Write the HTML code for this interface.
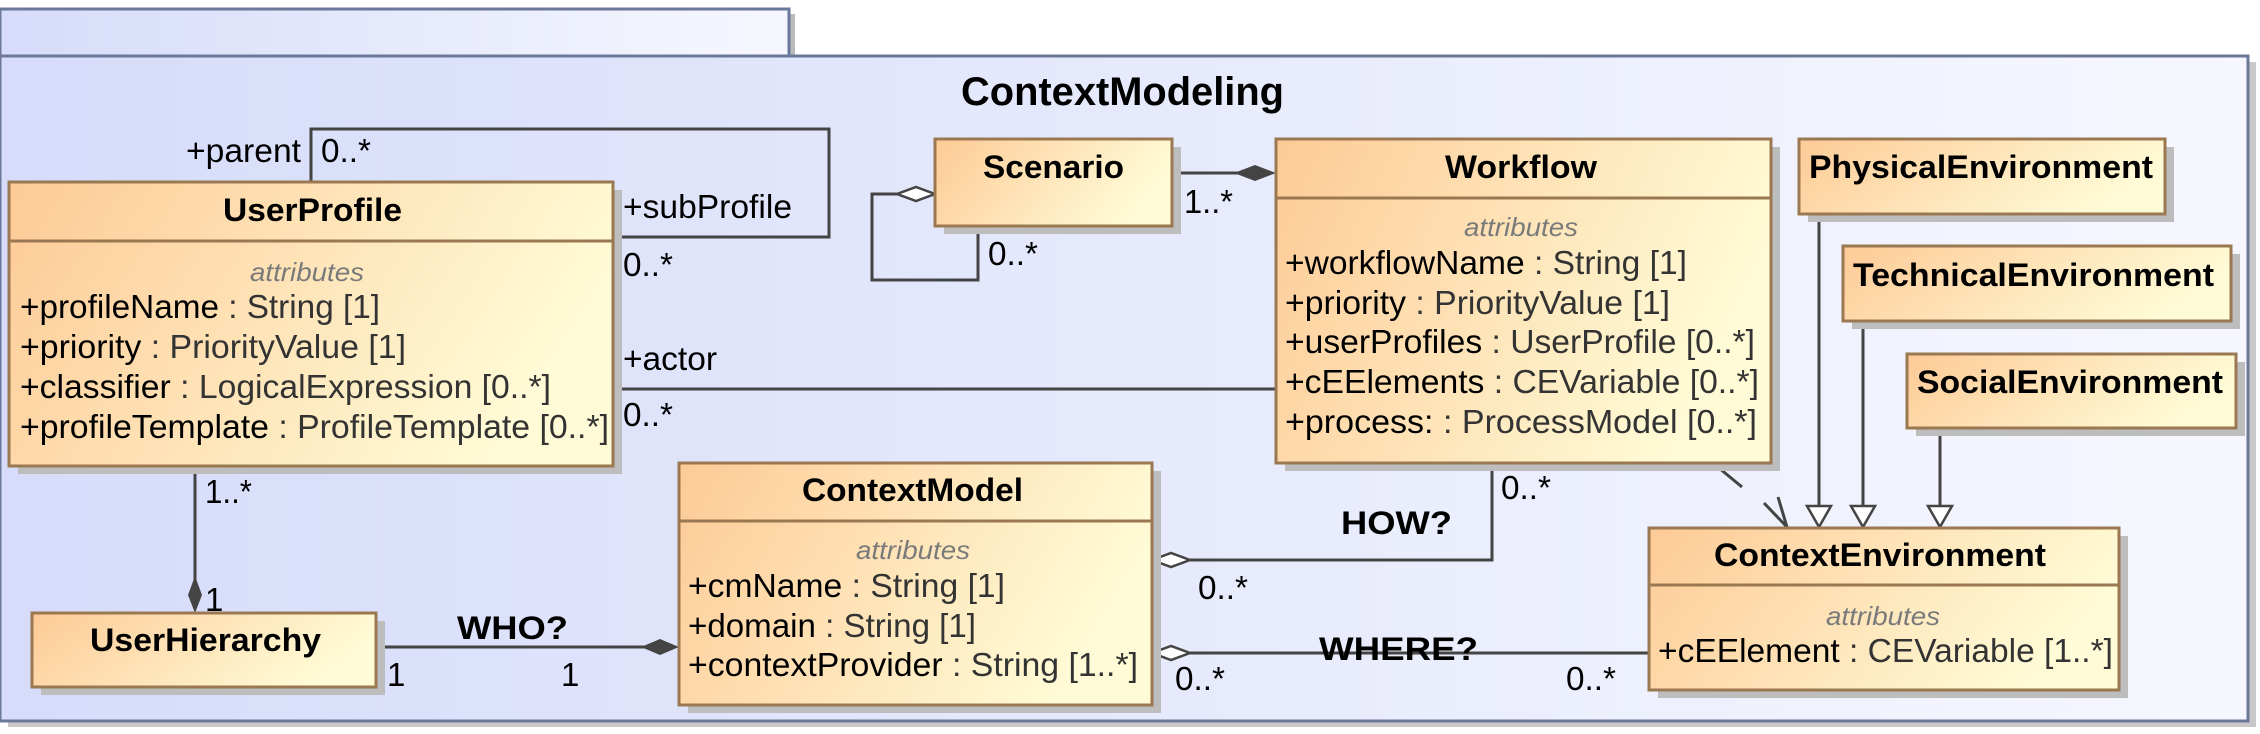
<!DOCTYPE html>
<html><head><meta charset="utf-8"><style>
html,body{margin:0;padding:0;background:#fff;}
svg{display:block;}
text{font-family:"Liberation Sans",sans-serif;}
</style></head><body>
<svg width="2260" height="734" viewBox="0 0 2260 734" xmlns="http://www.w3.org/2000/svg">
<defs>
<linearGradient id="pk" x1="0" y1="0" x2="1" y2="0"><stop offset="0" stop-color="#d6dcfa"/><stop offset="1" stop-color="#f6f7fe"/></linearGradient>
<linearGradient id="cl" x1="0" y1="0" x2="1" y2="0.3"><stop offset="0" stop-color="#fdca96"/><stop offset="1" stop-color="#fffbd6"/></linearGradient>
</defs>
<rect x="6" y="14" width="789" height="47" fill="#bbb"/>
<rect x="0" y="9" width="789" height="47" fill="url(#pk)" stroke="#6b7899" stroke-width="3"/>
<rect x="8" y="62" width="2248" height="665" fill="#c8c8c8"/>
<rect x="0" y="56" width="2248" height="665" fill="url(#pk)" stroke="#6b7899" stroke-width="3"/>
<text x="961" y="105" font-size="40" font-weight="bold" textLength="323" lengthAdjust="spacingAndGlyphs">ContextModeling</text>

<g stroke="#444" stroke-width="3" fill="none">
<polyline points="311,182 311,129 829,129 829,237 613,237"/>
<polyline points="897,194 872,194 872,280 978,280 978,226"/>
<line x1="1172" y1="173" x2="1240" y2="173"/>
<line x1="613" y1="389" x2="1276" y2="389"/>
<line x1="195" y1="466" x2="195" y2="580"/>
<line x1="376" y1="647" x2="645" y2="647"/>
<polyline points="1492,463 1492,560 1190,560"/>
<line x1="1190" y1="653" x2="1649" y2="653"/>
<line x1="1819" y1="214" x2="1819" y2="506"/>
<line x1="1863" y1="321" x2="1863" y2="506"/>
<line x1="1940" y1="428" x2="1940" y2="506"/>
<line x1="1719" y1="468" x2="1742" y2="487"/>
<polyline points="1764,503 1787,527 1778,497"/>
</g>
<g stroke="#444" stroke-width="2.5" fill="#fff">
<polygon points="1807,506 1831,506 1819,527"/>
<polygon points="1851,506 1875,506 1863,527"/>
<polygon points="1928,506 1952,506 1940,527"/>
<polygon points="935,194 916,187 897,194 916,201"/>
<polygon points="1152,560 1171,553 1190,560 1171,567"/>
<polygon points="1152,653 1171,646 1190,653 1171,660"/>
</g>
<g fill="#444">
<polygon points="1276,173 1255,165 1234,173 1255,181"/>
<polygon points="195,613 188,595 195,576 202,595"/>
<polygon points="679,647 660,639 641,647 660,655"/>
</g>

<g fill="#bdbdbd">
<rect x="18" y="190" width="604" height="284"/>
<rect x="944" y="147" width="237" height="87"/>
<rect x="1285" y="147" width="495" height="324"/>
<rect x="1808" y="147" width="366" height="75"/>
<rect x="1852" y="254" width="388" height="75"/>
<rect x="1916" y="362" width="329" height="74"/>
<rect x="1658" y="536" width="470" height="162"/>
<rect x="688" y="471" width="473" height="242"/>
<rect x="41" y="621" width="344" height="74"/>
</g>
<g fill="url(#cl)" stroke="#9a7852" stroke-width="3">
<rect x="9" y="182" width="604" height="284"/>
<rect x="935" y="139" width="237" height="87"/>
<rect x="1276" y="139" width="495" height="324"/>
<rect x="1799" y="139" width="366" height="75"/>
<rect x="1843" y="246" width="388" height="75"/>
<rect x="1907" y="354" width="329" height="74"/>
<rect x="1649" y="528" width="470" height="162"/>
<rect x="679" y="463" width="473" height="242"/>
<rect x="32" y="613" width="344" height="74"/>
</g>
<g stroke="#9a7852" stroke-width="3">
<line x1="9" y1="241" x2="613" y2="241"/>
<line x1="1276" y1="198" x2="1771" y2="198"/>
<line x1="1649" y1="585" x2="2119" y2="585"/>
<line x1="679" y1="521" x2="1152" y2="521"/>
</g>

<g font-weight="bold" font-size="32" fill="#000">
<text x="223" y="221" textLength="179" lengthAdjust="spacingAndGlyphs">UserProfile</text>
<text x="983" y="178" textLength="141" lengthAdjust="spacingAndGlyphs">Scenario</text>
<text x="1445" y="178" textLength="152" lengthAdjust="spacingAndGlyphs">Workflow</text>
<text x="1809" y="178" textLength="344" lengthAdjust="spacingAndGlyphs">PhysicalEnvironment</text>
<text x="1853" y="286" textLength="361" lengthAdjust="spacingAndGlyphs">TechnicalEnvironment</text>
<text x="1917" y="393" textLength="306" lengthAdjust="spacingAndGlyphs">SocialEnvironment</text>
<text x="1714" y="566" textLength="332" lengthAdjust="spacingAndGlyphs">ContextEnvironment</text>
<text x="802" y="501" textLength="221" lengthAdjust="spacingAndGlyphs">ContextModel</text>
<text x="90" y="651" textLength="231" lengthAdjust="spacingAndGlyphs">UserHierarchy</text>
<text x="457" y="639" textLength="111" lengthAdjust="spacingAndGlyphs">WHO?</text>
<text x="1341" y="534" textLength="111" lengthAdjust="spacingAndGlyphs">HOW?</text>
<text x="1319" y="660" textLength="159" lengthAdjust="spacingAndGlyphs">WHERE?</text>
</g>
<g font-style="italic" font-size="26" fill="#7a7a7a">
<text x="250" y="281" textLength="114" lengthAdjust="spacingAndGlyphs">attributes</text>
<text x="1464" y="236" textLength="114" lengthAdjust="spacingAndGlyphs">attributes</text>
<text x="1826" y="625" textLength="114" lengthAdjust="spacingAndGlyphs">attributes</text>
<text x="856" y="559" textLength="114" lengthAdjust="spacingAndGlyphs">attributes</text>
</g>
<g font-size="33" fill="#000">
<text x="20" y="318" textLength="360" lengthAdjust="spacingAndGlyphs">+profileName<tspan fill="#333"> : String [1]</tspan></text>
<text x="20" y="358" textLength="386" lengthAdjust="spacingAndGlyphs">+priority<tspan fill="#333"> : PriorityValue [1]</tspan></text>
<text x="20" y="398" textLength="531" lengthAdjust="spacingAndGlyphs">+classifier<tspan fill="#333"> : LogicalExpression [0..*]</tspan></text>
<text x="20" y="438" textLength="589" lengthAdjust="spacingAndGlyphs">+profileTemplate<tspan fill="#333"> : ProfileTemplate [0..*]</tspan></text>

<text x="1285" y="274" textLength="402" lengthAdjust="spacingAndGlyphs">+workflowName<tspan fill="#333"> : String [1]</tspan></text>
<text x="1285" y="314" textLength="385" lengthAdjust="spacingAndGlyphs">+priority<tspan fill="#333"> : PriorityValue [1]</tspan></text>
<text x="1285" y="353" textLength="470" lengthAdjust="spacingAndGlyphs">+userProfiles<tspan fill="#333"> : UserProfile [0..*]</tspan></text>
<text x="1285" y="393" textLength="474" lengthAdjust="spacingAndGlyphs">+cEElements<tspan fill="#333"> : CEVariable [0..*]</tspan></text>
<text x="1285" y="433" textLength="472" lengthAdjust="spacingAndGlyphs">+process:<tspan fill="#333"> : ProcessModel [0..*]</tspan></text>

<text x="1658" y="662" textLength="455" lengthAdjust="spacingAndGlyphs">+cEElement<tspan fill="#333"> : CEVariable [1..*]</tspan></text>

<text x="688" y="597" textLength="317" lengthAdjust="spacingAndGlyphs">+cmName<tspan fill="#333"> : String [1]</tspan></text>
<text x="688" y="637" textLength="288" lengthAdjust="spacingAndGlyphs">+domain<tspan fill="#333"> : String [1]</tspan></text>
<text x="688" y="676" textLength="450" lengthAdjust="spacingAndGlyphs">+contextProvider<tspan fill="#333"> : String [1..*]</tspan></text>

<text x="186" y="162" textLength="115" lengthAdjust="spacingAndGlyphs">+parent</text>
<text x="321" y="162" textLength="50" lengthAdjust="spacingAndGlyphs">0..*</text>
<text x="623" y="218" textLength="169" lengthAdjust="spacingAndGlyphs">+subProfile</text>
<text x="623" y="276" textLength="50" lengthAdjust="spacingAndGlyphs">0..*</text>
<text x="988" y="265" textLength="50" lengthAdjust="spacingAndGlyphs">0..*</text>
<text x="1184" y="213" textLength="49" lengthAdjust="spacingAndGlyphs">1..*</text>
<text x="623" y="370" textLength="94" lengthAdjust="spacingAndGlyphs">+actor</text>
<text x="623" y="426" textLength="50" lengthAdjust="spacingAndGlyphs">0..*</text>
<text x="205" y="503" textLength="47" lengthAdjust="spacingAndGlyphs">1..*</text>
<text x="205" y="611">1</text>
<text x="387" y="686">1</text>
<text x="561" y="686">1</text>
<text x="1501" y="499" textLength="50" lengthAdjust="spacingAndGlyphs">0..*</text>
<text x="1198" y="599" textLength="50" lengthAdjust="spacingAndGlyphs">0..*</text>
<text x="1175" y="690" textLength="50" lengthAdjust="spacingAndGlyphs">0..*</text>
<text x="1566" y="690" textLength="50" lengthAdjust="spacingAndGlyphs">0..*</text>
</g>
</svg>
</body></html>
